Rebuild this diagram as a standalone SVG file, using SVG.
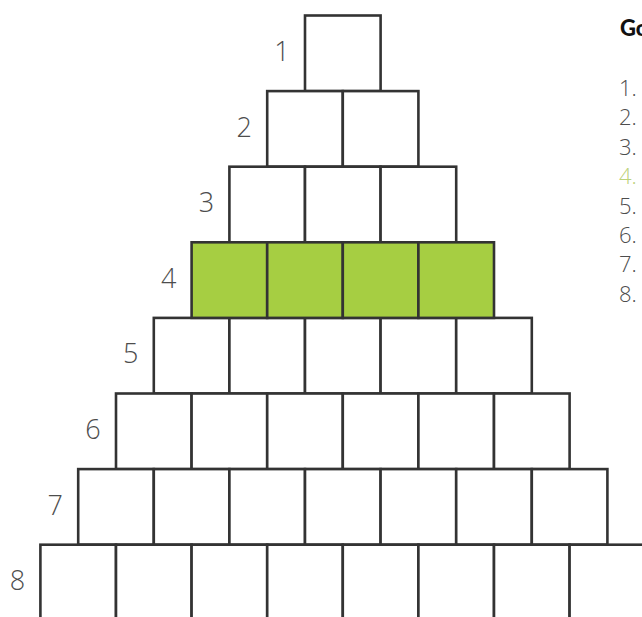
<svg xmlns="http://www.w3.org/2000/svg" width="642" height="617" viewBox="0 0 642 617">
<style>
.sq{fill:#ffffff;stroke:#333333;stroke-width:2.6}
.g{fill:#a6ce42}
.lbl{font-family:"Open Sans","Liberation Sans",sans-serif;font-weight:300;font-size:27px;fill:#4d4d4d;text-anchor:middle}
.li{font-family:"Open Sans","Liberation Sans",sans-serif;font-weight:300;font-size:22px;fill:#4d4d4d}
.hd{font-family:Lato,"Liberation Sans",Arial,sans-serif;font-weight:900;font-size:22px;fill:#111111}
</style>
<rect width="642" height="617" fill="#ffffff"/>
<g id="row1">
<rect class="sq" x="305" y="15.5" width="75.6" height="75.6"/>
<text class="lbl" x="282" y="61">1</text>
</g>
<g id="row2">
<rect class="sq" x="267.2" y="91.1" width="75.6" height="75.6"/>
<rect class="sq" x="342.8" y="91.1" width="75.6" height="75.6"/>
<text class="lbl" x="244.2" y="136.6">2</text>
</g>
<g id="row3">
<rect class="sq" x="229.4" y="166.7" width="75.6" height="75.6"/>
<rect class="sq" x="305" y="166.7" width="75.6" height="75.6"/>
<rect class="sq" x="380.6" y="166.7" width="75.6" height="75.6"/>
<text class="lbl" x="206.4" y="212.2">3</text>
</g>
<g id="row5">
<rect class="sq" x="153.8" y="317.9" width="75.6" height="75.6"/>
<rect class="sq" x="229.4" y="317.9" width="75.6" height="75.6"/>
<rect class="sq" x="305" y="317.9" width="75.6" height="75.6"/>
<rect class="sq" x="380.6" y="317.9" width="75.6" height="75.6"/>
<rect class="sq" x="456.2" y="317.9" width="75.6" height="75.6"/>
<text class="lbl" x="130.8" y="363.4">5</text>
</g>
<g id="row6">
<rect class="sq" x="116" y="393.5" width="75.6" height="75.6"/>
<rect class="sq" x="191.6" y="393.5" width="75.6" height="75.6"/>
<rect class="sq" x="267.2" y="393.5" width="75.6" height="75.6"/>
<rect class="sq" x="342.8" y="393.5" width="75.6" height="75.6"/>
<rect class="sq" x="418.4" y="393.5" width="75.6" height="75.6"/>
<rect class="sq" x="494" y="393.5" width="75.6" height="75.6"/>
<text class="lbl" x="93" y="439">6</text>
</g>
<g id="row7">
<rect class="sq" x="78.2" y="469.1" width="75.6" height="75.6"/>
<rect class="sq" x="153.8" y="469.1" width="75.6" height="75.6"/>
<rect class="sq" x="229.4" y="469.1" width="75.6" height="75.6"/>
<rect class="sq" x="305" y="469.1" width="75.6" height="75.6"/>
<rect class="sq" x="380.6" y="469.1" width="75.6" height="75.6"/>
<rect class="sq" x="456.2" y="469.1" width="75.6" height="75.6"/>
<rect class="sq" x="531.8" y="469.1" width="75.6" height="75.6"/>
<text class="lbl" x="55.2" y="514.6">7</text>
</g>
<g id="row8">
<rect class="sq" x="40.4" y="544.7" width="75.6" height="75.6"/>
<rect class="sq" x="116" y="544.7" width="75.6" height="75.6"/>
<rect class="sq" x="191.6" y="544.7" width="75.6" height="75.6"/>
<rect class="sq" x="267.2" y="544.7" width="75.6" height="75.6"/>
<rect class="sq" x="342.8" y="544.7" width="75.6" height="75.6"/>
<rect class="sq" x="418.4" y="544.7" width="75.6" height="75.6"/>
<rect class="sq" x="494" y="544.7" width="75.6" height="75.6"/>
<rect class="sq" x="569.6" y="544.7" width="75.6" height="75.6"/>
<text class="lbl" x="17.4" y="590.2">8</text>
</g>
<g id="row4">
<rect class="sq g" x="191.6" y="242.3" width="75.6" height="75.6"/>
<rect class="sq g" x="267.2" y="242.3" width="75.6" height="75.6"/>
<rect class="sq g" x="342.8" y="242.3" width="75.6" height="75.6"/>
<rect class="sq g" x="418.4" y="242.3" width="75.6" height="75.6"/>
<text class="lbl" x="168.6" y="287.8">4</text>
</g>
<g id="legend">
<text class="hd" x="620" y="36">Go</text>
<text class="li" x="619" y="96">1.</text>
<text class="li" x="619" y="125.4">2.</text>
<text class="li" x="619" y="154.8">3.</text>
<text class="li" x="619" y="184.2" style="fill:#bcd27a">4.</text>
<text class="li" x="619" y="213.6">5.</text>
<text class="li" x="619" y="243">6.</text>
<text class="li" x="619" y="272.4">7.</text>
<text class="li" x="619" y="301.8">8.</text>
</g>
</svg>
